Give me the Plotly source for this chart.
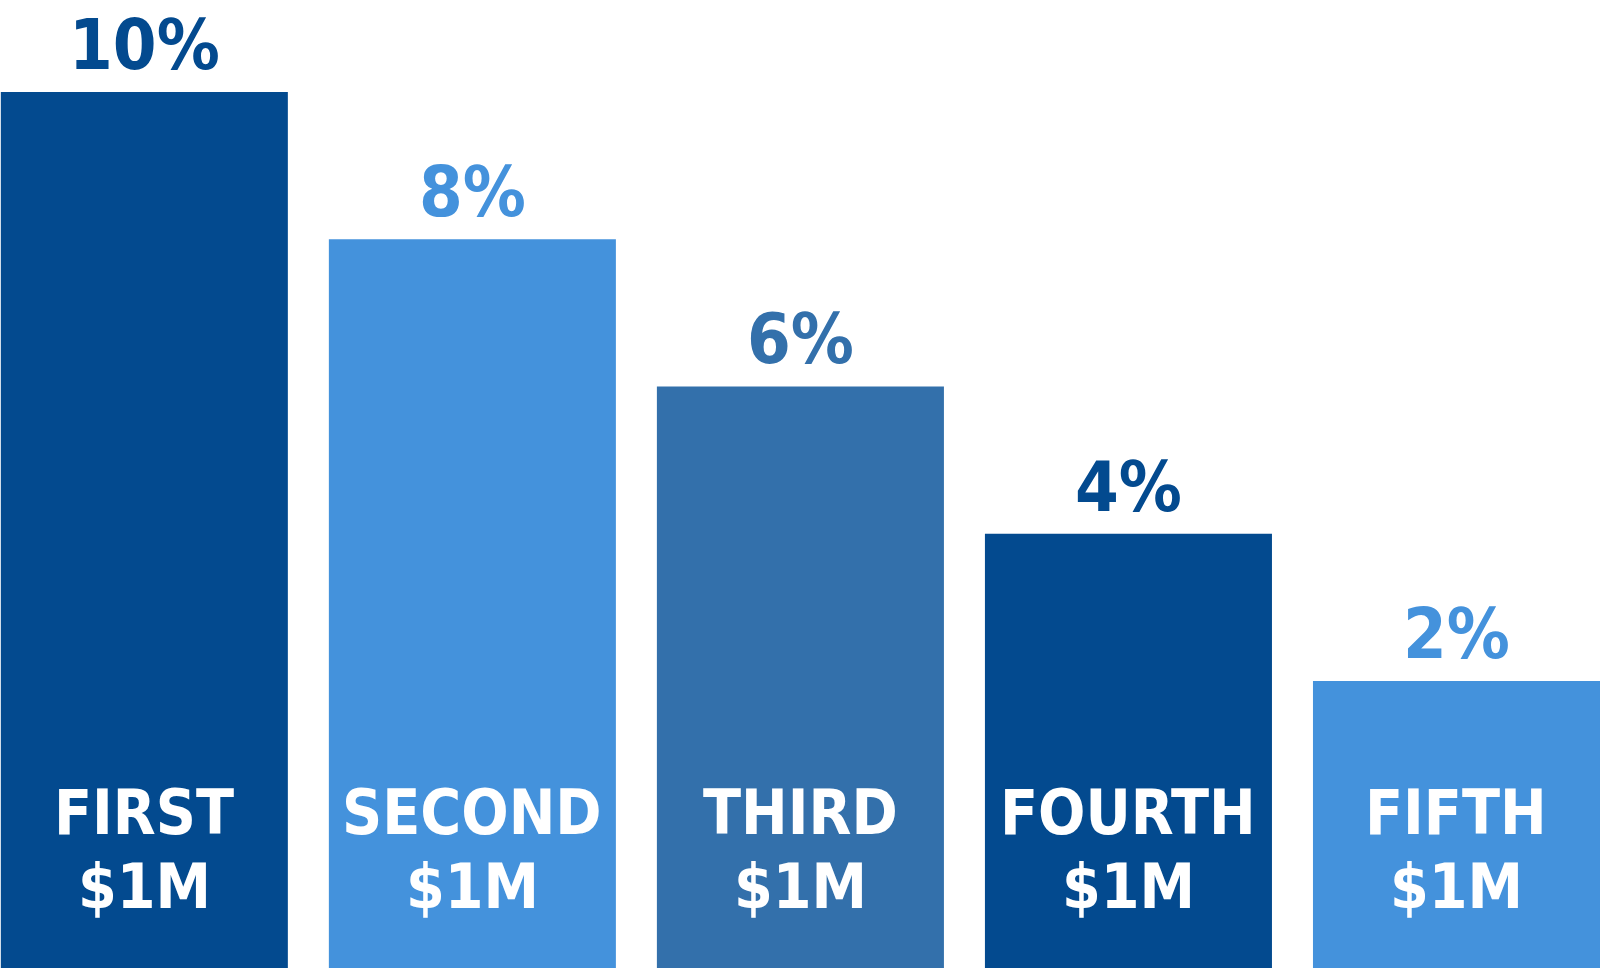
import plotly.graph_objects as go

ordinals = ["FIRST", "SECOND", "THIRD", "FOURTH", "FIFTH"]
amounts = ["$1M", "$1M", "$1M", "$1M", "$1M"]
rates = [10, 8, 6, 4, 2]
colors = ["#034a8f", "#4492dc", "#3370ab", "#034a8f", "#4492dc"]

Y_FLOOR = -1.90
Y_TOP = 11.25
FONT = "DejaVu Sans Condensed"

xs = list(range(len(rates)))

fig = go.Figure()
fig.add_trace(go.Bar(
    x=xs, y=[r - Y_FLOOR for r in rates], base=Y_FLOOR,
    width=0.875, marker=dict(color=colors, line=dict(width=0)),
    hoverinfo="skip",
))

annotations = []
for i, (o, a, r, c) in enumerate(zip(ordinals, amounts, rates, colors)):
    annotations.append(dict(
        x=i, y=r, xref="x", yref="y", text=f"{r}%",
        showarrow=False, yanchor="middle", xanchor="center", yshift=47,
        font=dict(family=FONT, size=70, color=c, weight="bold"),
    ))
    annotations.append(dict(
        x=i, y=Y_FLOOR, xref="x", yref="y", text=o,
        showarrow=False, yanchor="middle", xanchor="center", yshift=156,
        font=dict(family=FONT, size=62, color="white", weight="bold"),
    ))
    annotations.append(dict(
        x=i, y=Y_FLOOR, xref="x", yref="y", text=a,
        showarrow=False, yanchor="middle", xanchor="center", yshift=82,
        font=dict(family=FONT, size=62, color="white", weight="bold"),
    ))

fig.update_layout(
    width=1600, height=968,
    margin=dict(l=0, r=0, t=0, b=0),
    paper_bgcolor="white", plot_bgcolor="white",
    showlegend=False,
    xaxis=dict(range=[-0.44, 4.4375], visible=False, fixedrange=True),
    yaxis=dict(range=[Y_FLOOR, Y_TOP], visible=False, fixedrange=True),
    annotations=annotations,
)

fig.write_html("out.html", config={"displayModeBar": False},
               post_script="document.body.style.margin='0';")
